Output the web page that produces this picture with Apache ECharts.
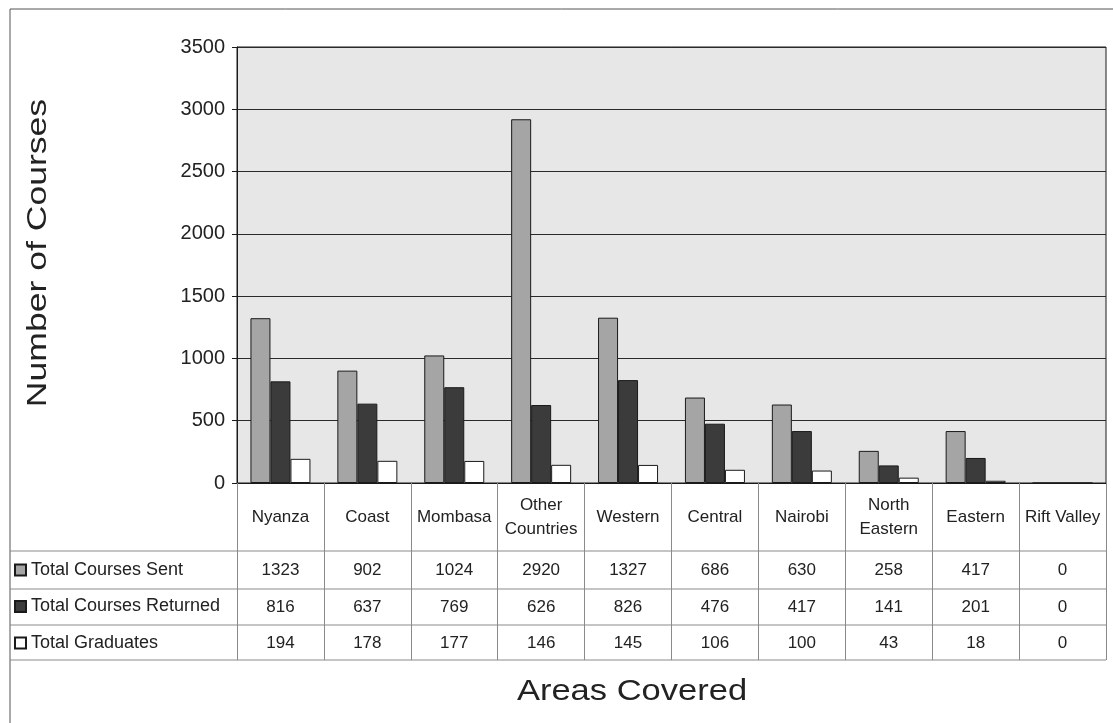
<!DOCTYPE html>
<html>
<head>
<meta charset="utf-8">
<title>Number of Courses by Area</title>
<script src="https://cdn.jsdelivr.net/npm/echarts@6/dist/echarts.min.js"></script>
<style>
  html, body { margin: 0; padding: 0; background: #ffffff; }
  #chart { width: 1113px; height: 723px; }
</style>
</head>
<body>
<div id="chart"></div>
<script>
// Areas covered by the correspondence courses
const areas = ['Nyanza', 'Coast', 'Mombasa', 'Other\nCountries', 'Western',
               'Central', 'Nairobi', 'North\nEastern', 'Eastern', 'Rift Valley'];

// Counts per area
const coursesSent     = [1323, 902, 1024, 2920, 1327, 686, 630, 258, 417, 0];
const coursesReturned = [816, 637, 769, 626, 826, 476, 417, 141, 201, 0];
const graduates       = [194, 178, 177, 146, 145, 106, 100, 43, 18, 0];

const seriesNames = ['Total Courses Sent', 'Total Courses Returned', 'Total Graduates'];
const seriesData  = [coursesSent, coursesReturned, graduates];

// Value axis ticks
const yMin = 0, yMax = 3500, yStep = 500;

const FONT = '"Liberation Sans", Arial, sans-serif';
const INK = '#222222';
const TABLE_LINE = '#8a8a8a';

const barStyles = [
  { color: '#a5a5a5', borderColor: '#1a1a1a', borderWidth: 1 },
  { color: '#3b3b3b', borderColor: '#1a1a1a', borderWidth: 1 },
  { color: '#ffffff', borderColor: '#1a1a1a', borderWidth: 1 }
];

// Layout of the data table under the plot
const plotLeft = 237, plotRight = 1106, plotTop = 47, plotBottom = 483;
const rowCenters = [570, 607, 643];
const tableLines = [551, 589, 625, 660];

const chart = echarts.init(document.getElementById('chart'), null, { renderer: 'canvas' });

// One hidden-line category axis per table row, so the numbers line up with the columns
const valueRowAxes = seriesData.map((vals, i) => ({
  type: 'category',
  gridIndex: 0,
  position: 'bottom',
  offset: rowCenters[i] - plotBottom,
  data: vals.map(String),
  axisLine: { show: false },
  axisTick: { show: false },
  splitLine: { show: false },
  axisLabel: {
    interval: 0, margin: 0, verticalAlign: 'middle',
    fontFamily: FONT, fontSize: 17, color: INK
  }
}));

const graphics = [
  // chart frame
  { type: 'line', shape: { x1: 10, y1: 9, x2: 1113, y2: 9 }, style: { stroke: '#555', lineWidth: 1 }, silent: true },
  { type: 'line', shape: { x1: 10, y1: 9, x2: 10, y2: 723 }, style: { stroke: '#555', lineWidth: 1 }, silent: true }
];
tableLines.forEach(y => {
  graphics.push({ type: 'line', shape: { x1: 10, y1: y, x2: plotRight, y2: y },
                  style: { stroke: TABLE_LINE, lineWidth: 1 }, silent: true });
});
graphics.push({
  type: 'text', x: 38, y: 253, rotation: Math.PI / 2, scaleX: 1.27, silent: true,
  style: { text: 'Number of Courses', fontFamily: FONT, fontSize: 28, fill: INK,
           align: 'center', verticalAlign: 'middle' }
});
graphics.push({
  type: 'text', x: 632, y: 692, scaleX: 1.19, silent: true,
  style: { text: 'Areas Covered', fontFamily: FONT, fontSize: 29, fill: INK,
           align: 'center', verticalAlign: 'middle' }
});

chart.setOption({
  animation: false,
  backgroundColor: '#ffffff',
  textStyle: { fontFamily: FONT },
  grid: {
    left: plotLeft, right: 1113 - plotRight, top: plotTop, bottom: 723 - plotBottom,
    show: true, backgroundColor: '#e7e7e7', borderColor: '#1a1a1a', borderWidth: 1
  },
  legend: {
    orient: 'vertical', left: 14, top: rowCenters[0] - 10, padding: 0,
    itemWidth: 11, itemHeight: 11, itemGap: 16.5, icon: 'rect',
    selectedMode: false,
    textStyle: { fontFamily: FONT, fontSize: 18, color: INK, lineHeight: 20 },
    data: seriesNames
  },
  xAxis: [{
    type: 'category',
    gridIndex: 0,
    position: 'bottom',
    data: areas,
    axisLine: { show: true, lineStyle: { color: '#1a1a1a', width: 1 } },
    axisTick: { show: true, interval: 0, inside: false, length: tableLines[3] - plotBottom,
                lineStyle: { color: TABLE_LINE, width: 1 } },
    axisLabel: {
      interval: 0, margin: 34, verticalAlign: 'middle', lineHeight: 24,
      fontFamily: FONT, fontSize: 17, color: INK
    }
  }].concat(valueRowAxes),
  yAxis: {
    type: 'value',
    min: yMin, max: yMax, interval: yStep,
    axisLine: { show: true, lineStyle: { color: '#1a1a1a', width: 1 } },
    axisTick: { show: true, length: 5, lineStyle: { color: '#1a1a1a' } },
    splitLine: { show: true, lineStyle: { color: '#2a2a2a', width: 1.2 } },
    axisLabel: { margin: 12, fontFamily: FONT, fontSize: 20, color: INK,
                 formatter: v => String(v) }
  },
  series: seriesNames.map((name, i) => ({
    name: name,
    type: 'bar',
    xAxisIndex: 0,
    data: seriesData[i],
    barWidth: 20,
    barGap: '0%',
    itemStyle: barStyles[i]
  })),
  graphic: graphics
});
</script>
</body>
</html>
